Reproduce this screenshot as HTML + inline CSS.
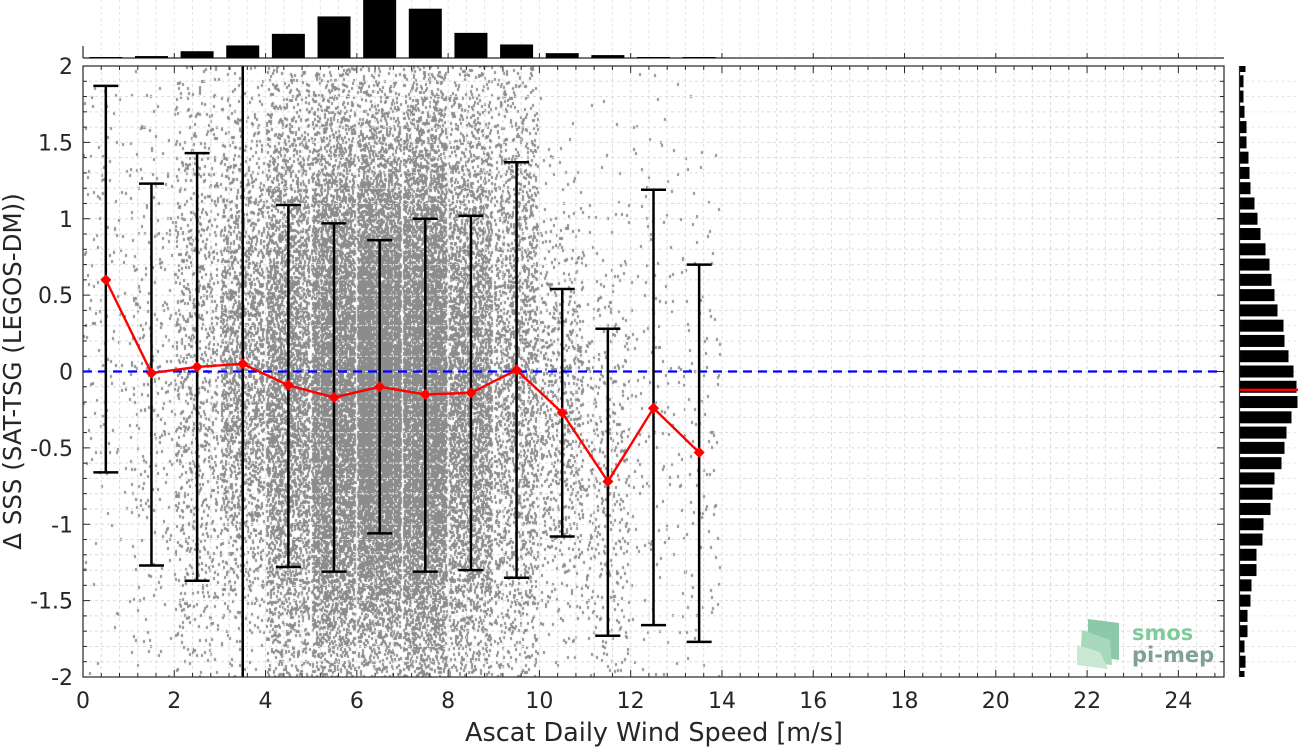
<!DOCTYPE html>
<html><head><meta charset="utf-8">
<style>
html,body{margin:0;padding:0;background:#fff;}
#wrap{position:relative;width:1299px;height:747px;overflow:hidden;font-family:"DejaVu Sans","Liberation Sans",sans-serif;}
canvas{position:absolute;left:0;top:0;}
svg{position:absolute;left:0;top:0;}
</style></head>
<body>
<div id="wrap">
<canvas id="cv" width="1299" height="747"></canvas>
<svg id="sv" width="1299" height="747"></svg>
</div>
<script>
// ---- data ----
const binCenters = [0.5,1.5,2.5,3.5,4.5,5.5,6.5,7.5,8.5,9.5,10.5,11.5,12.5,13.5];
const binMeans   = [0.60,-0.01,0.03,0.05,-0.09,-0.17,-0.10,-0.15,-0.14,0.01,-0.27,-0.72,-0.24,-0.53];
const binUpper   = [1.87,1.23,1.43,2.6,1.09,0.97,0.86,1.00,1.02,1.37,0.54,0.28,1.19,0.70];
const binLower   = [-0.66,-1.27,-1.37,-2.6,-1.28,-1.31,-1.06,-1.31,-1.30,-1.35,-1.08,-1.73,-1.66,-1.77];
const windCounts = [1,2,7,13,25,43,60,51,26,14,5,3,1,1];
const dssCenters = [2.0,1.9,1.8,1.7,1.6,1.5,1.4,1.3,1.2,1.1,1.0,0.9,0.8,0.7,0.6,0.5,0.4,0.3,0.2,0.1,0.0,-0.1,-0.2,-0.3,-0.4,-0.5,-0.6,-0.7,-0.8,-0.9,-1.0,-1.1,-1.2,-1.3,-1.4,-1.5,-1.6,-1.7,-1.8,-1.9,-2.0];
const dssCounts  = [6,4,4,5,7,7,9,10,11,15,18,21,26,30,32,35,38,44,45,49,54,57,58,52,47,45,42,35,33,31,24,23,17,17,12,11,8,8,5,6,5];
const dssMedian = -0.12;
const xTicks = [0,2,4,6,8,10,12,14,16,18,20,22,24];
const yTicks = [2,1.5,1,0.5,0,-0.5,-1,-1.5,-2];
const yTickLabels = ["2","1.5","1","0.5","0","-0.5","-1","-1.5","-2"];

// ---- axes ----
const L=83,R=1224,T=66,B=677;
const X=v=>L+(v/25)*(R-L);
const Y=v=>T+(2-v)/4*(B-T);
const HB=58, HT=0;
const hY=c=>HB-(c/60)*(HB-HT);
const RL=1239.5;

const NS="http://www.w3.org/2000/svg";
const sv=document.getElementById('sv');
function el(tag,attrs,parent){const e=document.createElementNS(NS,tag);for(const k in attrs)e.setAttribute(k,attrs[k]);(parent||sv).appendChild(e);return e;}

// ---- scatter cloud (low-discrepancy points following bins) ----
const cv=document.getElementById('cv');const ctx=cv.getContext('2d');
function halton(i,b){let f=1,r=0;while(i>0){f/=b;r+=f*(i%b);i=Math.floor(i/b);}return r;}
ctx.fillStyle='#8c8c8c';
ctx.save();ctx.beginPath();ctx.rect(L,T,R-L,B-T);ctx.clip();
let idx=1;
for(let b=0;b<binCenters.length;b++){
  const n=Math.round(windCounts[b]*150);
  const sd=Math.max(0.45,(binUpper[b]-binLower[b])/2);
  const sdv=(b===3)?0.95:sd;
  for(let k=0;k<n;k++){
    const u1=halton(idx,2),u2=halton(idx,3),u3=halton(idx,5);idx++;
    const g=Math.sqrt(-2*Math.log(Math.max(u1,1e-6)))*Math.cos(2*Math.PI*u2);
    const xv=binCenters[b]-0.5+u3*0.95;
    const yv=binMeans[b]+g*sdv*0.9;
    ctx.fillRect(Math.round(X(xv)),Math.round(Y(yv)),2,3);
  }
}
ctx.restore();

// ---- grid ----
const grid=el('g',{});
for(let v=0.4;v<25;v+=0.4){el('line',{x1:X(v),x2:X(v),y1:T,y2:B,stroke:'#dcdcdc','stroke-width':1,'stroke-dasharray':'3,3'},grid);
 el('line',{x1:X(v),x2:X(v),y1:HT,y2:HB,stroke:'#e6e6e6','stroke-width':1,'stroke-dasharray':'3,3'},grid);}
for(let v=-1.9;v<2;v+=0.1){el('line',{x1:L,x2:R,y1:Y(v),y2:Y(v),stroke:'#dcdcdc','stroke-width':1,'stroke-dasharray':'3,3'},grid);
 el('line',{x1:RL,x2:1299,y1:Y(v),y2:Y(v),stroke:'#e6e6e6','stroke-width':1,'stroke-dasharray':'3,3'},grid);}

// ---- zero line ----
const zl=el('line',{x1:L,x2:R,y1:Y(0),y2:Y(0),stroke:'#0000ff','stroke-width':2.2,'stroke-dasharray':'9,6'});



// ---- error bars ----
const eg=el('g',{});
for(let i=0;i<binCenters.length;i++){
  const x=X(binCenters[i]);
  const yu=Math.max(Y(binUpper[i]),T), yl=Math.min(Y(binLower[i]),B);
  const g=el('g',{},eg);
  
  
  el('line',{x1:x,x2:x,y1:yu,y2:yl,stroke:'#000','stroke-width':2.5},g);
  if(binUpper[i]<=2) el('line',{x1:x-12.5,x2:x+12.5,y1:yu,y2:yu,stroke:'#000','stroke-width':2.5},g);
  if(binLower[i]>=-2) el('line',{x1:x-12.5,x2:x+12.5,y1:yl,y2:yl,stroke:'#000','stroke-width':2.5},g);
}

// ---- mean line ----
const pts=binCenters.map((c,i)=>X(c)+','+Y(binMeans[i])).join(' ');
const ml=el('polyline',{points:pts,fill:'none',stroke:'#ff0000','stroke-width':2.4});


for(let i=0;i<binCenters.length;i++){
  const x=X(binCenters[i]),y=Y(binMeans[i]);
  const m=el('polygon',{points:`${x},${y-4.5} ${x+4.5},${y} ${x},${y+4.5} ${x-4.5},${y}`,fill:'#ff0000',stroke:'#ff0000','stroke-width':1.5});
  
  
}

// ---- axes frame and ticks ----
const ax=el('g',{});
el('rect',{x:L,y:T,width:R-L,height:B-T,fill:'none',stroke:'#262626','stroke-width':1.2},ax);
for(let v=0;v<=25.001;v+=0.4){const maj=xTicks.some(t=>Math.abs(t-v)<1e-6);const len=maj?7:4;
  el('line',{x1:X(v),x2:X(v),y1:B,y2:B-len,stroke:'#262626'},ax);
  el('line',{x1:X(v),x2:X(v),y1:T,y2:T+len,stroke:'#262626'},ax);}
for(let v=-2;v<=2.001;v+=0.1){const maj=Math.abs(v*2-Math.round(v*2))<1e-6;const len=maj?7:4;
  el('line',{x1:L,x2:L+len,y1:Y(v),y2:Y(v),stroke:'#262626'},ax);
  el('line',{x1:R,x2:R-len,y1:Y(v),y2:Y(v),stroke:'#262626'},ax);}
xTicks.forEach(t=>{const tx=el('text',{x:X(t),y:708,'font-size':22,'text-anchor':'middle',fill:'#262626'},ax);tx.textContent=t;
  });
yTicks.forEach((t,i)=>{const tx=el('text',{x:73,y:Y(t)+8,'font-size':22,'text-anchor':'end',fill:'#262626'},ax);tx.textContent=yTickLabels[i];
  });
const xt=el('text',{x:654,y:741,'font-size':25.5,'text-anchor':'middle',fill:'#262626'});
xt.textContent='Ascat Daily Wind Speed [m/s]';

const yt=el('text',{x:0,y:0,'font-size':24.5,'text-anchor':'middle',fill:'#262626',transform:`translate(21,${Y(0)}) rotate(-90)`});
yt.textContent='Δ SSS (SAT-TSG (LEGOS-DM))';


// ---- top histogram ----
const th=el('g',{});
el('line',{x1:L,x2:R,y1:HB,y2:HB,stroke:'#262626','stroke-width':1.2},th);
el('line',{x1:L,x2:L,y1:46,y2:HB,stroke:'#262626','stroke-width':1.2},th);
for(let v=0;v<=25.001;v+=2){el('line',{x1:X(v),x2:X(v),y1:HB,y2:HB-5,stroke:'#262626'},th);}
for(let i=0;i<binCenters.length;i++){
  const y=hY(windCounts[i]);
  const r=el('rect',{x:X(binCenters[i])-16.5,y:Math.max(y,0),width:33,height:HB-Math.max(y,0),fill:'#000'},th);
  
  
}

// ---- right histogram ----
const rh=el('g',{});
for(let i=0;i<dssCenters.length;i++){
  let y1=Y(dssCenters[i])-6,y2=Y(dssCenters[i])+6;
  y1=Math.max(y1,T);y2=Math.min(y2,B);
  const r=el('rect',{x:RL,y:y1,width:dssCounts[i],height:y2-y1,fill:'#000'},rh);
  
  
}
el('line',{x1:RL,x2:RL,y1:T,y2:B,stroke:'#262626','stroke-width':1.2},rh);
const md=el('line',{x1:RL,x2:1298,y1:Y(dssMedian),y2:Y(dssMedian),stroke:'#ff0000','stroke-width':2.5});


// ---- logo ----
const lg=el('g',{});
el('polygon',{points:'1088,619 1119,623 1119,660 1088,656',fill:'#8cc9a8'},lg);
el('polygon',{points:'1082,630 1110,640 1112,665 1080,662',fill:'#a7d8bc'},lg);
el('polygon',{points:'1077,645 1100,652 1108,669 1077,665',fill:'#c8e8d4'},lg);
const t1=el('text',{x:1132,y:640,'font-size':21,'font-weight':'bold',fill:'#7fcb9c'},lg);t1.textContent='smos';
const t2=el('text',{x:1132,y:662,'font-size':21,'font-weight':'bold',fill:'#80a090'},lg);t2.textContent='pi-mep';
</script>
</body></html>
